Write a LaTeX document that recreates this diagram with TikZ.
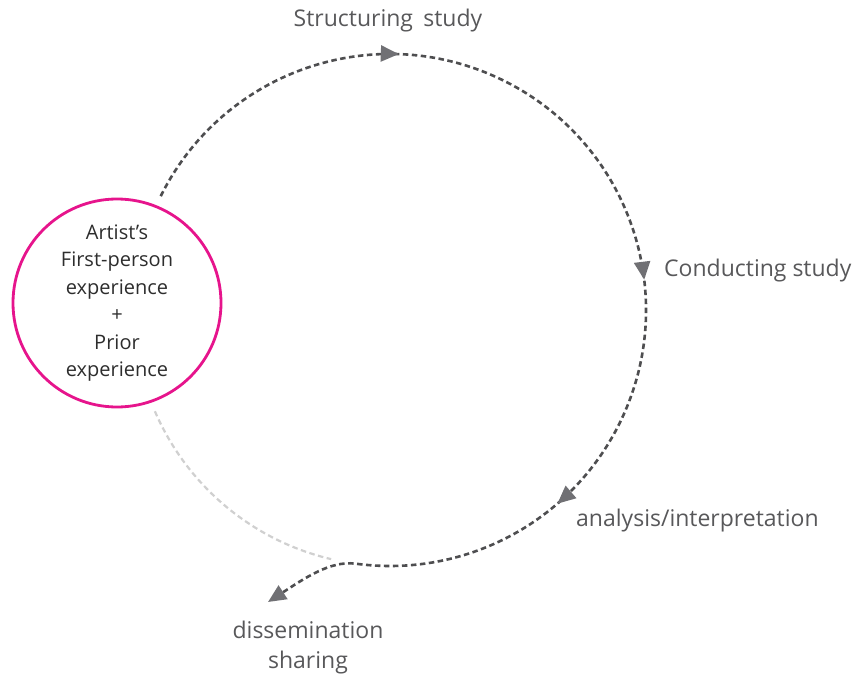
\documentclass[tikz,border=0pt]{standalone}
\usepackage{fontspec}
\setmainfont{Open Sans}
\usetikzlibrary{arrows.meta,decorations.markings}
\definecolor{dashgrey}{RGB}{78,78,80}
\definecolor{tipgrey}{RGB}{112,112,116}
\definecolor{lightarcgrey}{RGB}{208,208,208}
\definecolor{ringpink}{RGB}{230,20,140}
\definecolor{labelgrey}{RGB}{88,88,90}
\definecolor{innergrey}{RGB}{45,45,45}
\tikzset{
  lbl/.style={text=labelgrey, font=\fontsize{23}{30}\selectfont, inner sep=0pt},
  cyclepath/.style={draw=dashgrey, line width=2.6pt, dash pattern=on 5.5pt off 3.5pt},
  lightpath/.style={draw=lightarcgrey, line width=2.2pt, dash pattern=on 5.5pt off 3.5pt},
  tipmark/.style={postaction={decorate}, decoration={markings,
    mark=at position 293pt with {\arrow[tipgrey]{Triangle[length=18pt,width=16pt]}},
    mark=at position 656pt with {\arrow[tipgrey]{Triangle[length=18pt,width=16pt]}},
    mark=at position 906pt with {\arrow[tipgrey]{Triangle[length=18pt,width=16pt]}}}},
}
\begin{document}
\begin{tikzpicture}[x=1pt,y=-1pt]
\useasboundingbox (0,0) rectangle (857,674);
\coordinate (c) at (390,310);
\node[draw=ringpink, line width=2.8pt, circle, minimum size=208pt, inner sep=0pt,
      align=center, text=innergrey, font=\fontsize{20}{27.4}\selectfont] (exp) at (117,303)
  {Artist’s\\First-person\\experience\\+\\Prior\\experience};
\node[lbl] (struct) at (388,21) {Structuring\hspace{0.45em}study};
\node[lbl, anchor=west] (cond) at (664,271) {Conducting study};
\node[lbl, anchor=west] (anal) at (576,521) {analysis/interpretation};
\node[lbl, align=center] (diss) at (308,648) {dissemination\\sharing};
\coordinate (disstip) at (268,602);
\draw[cyclepath, tipmark, -{Triangle[length=18pt,width=16pt,color=tipgrey]}]
  ([shift={(206.4:256)}]c) arc[start angle=206.4, end angle=457.8, radius=256]
  .. controls +(-25,-3) and (305,578) .. (disstip);
\draw[lightpath] ([shift={(156.7:256)}]c) arc[start angle=156.7, end angle=103.3, radius=256];
\end{tikzpicture}
\end{document}
